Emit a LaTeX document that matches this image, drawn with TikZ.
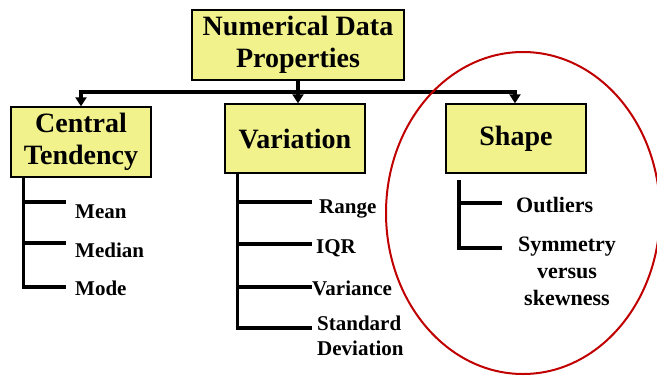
\documentclass[tikz,border=0pt]{standalone}
\usepackage{fontspec}
\setmainfont{Liberation Serif}
\usetikzlibrary{arrows.meta,positioning}
\definecolor{BoxYellow}{HTML}{F2F28C}
\definecolor{RingRed}  {HTML}{C00000}
\tikzset{
  pbox/.style={rectangle,draw=black,line width=1.4pt,fill=BoxYellow,inner sep=0pt,
               align=center,font=\fontsize{28}{32}\selectfont\bfseries},
  leaf/.style={anchor=base west,inner sep=0pt,
               font=\fontsize{21}{25}\selectfont\bfseries},
  sleaf/.style={inner sep=0pt,font=\fontsize{22}{27}\selectfont\bfseries},
  tree/.style={line width=3.2pt},
  arr/.style={-{Triangle[length=9pt,width=11pt]},line width=3.5pt},
  ring/.style={draw=RingRed,line width=2pt},
}
\begin{document}
\begin{tikzpicture}[x=1pt,y=-1pt]
  \useasboundingbox (0,0) rectangle (657,376);

  % boxes
  \node[pbox,minimum width=212pt,minimum height=70pt] (top) at (298,45)
    {Numerical Data\\Properties};
  \node[pbox,minimum width=140pt,minimum height=70pt] (ct) at (81,142)
    {Central\\Tendency};
  \node[pbox,minimum width=140pt,minimum height=69pt] (var) at (295,138.5)
    {Variation};
  \node[pbox,minimum width=140pt,minimum height=69pt] (shp) at (516,138.5)
    {Shape};

  % top arrows
  \coordinate (hub) at (298,92);
  \draw[line width=3.5pt] (top.south) -- (hub);
  \draw[arr] (hub) -| (ct.north);
  \draw[arr] (hub) -- (hub |- var.north);
  \draw[arr] (hub) -| ([xshift=-1pt]shp.north);

  % leaves
  \node[leaf] (mean)   at (75,218) {Mean};
  \node[leaf] (median) at (75,257) {Median};
  \node[leaf] (mode)   at (75,295) {Mode};

  \node[leaf] (range)  at (319,213) {Range};
  \node[leaf] (iqr)    at (316,253) {IQR};
  \node[leaf] (vari)   at (312,295) {Variance};
  \node[leaf,anchor=north west,align=left] (sdev) at (317,316)
    {Standard\\Deviation};

  \node[sleaf,anchor=base west] (outl) at (516,212) {Outliers};
  \node[sleaf,anchor=north,align=center] (symm) at (567,237)
    {Symmetry\\versus\\skewness};

  % brackets
  \coordinate (ct1) at (66,202);
  \coordinate (ct2) at (66,243);
  \coordinate (ct3) at (66,287);
  \draw[tree] ([xshift=13pt]ct.south west) |- (ct3);
  \draw[tree] ([xshift=13pt]ct.south west |- ct1) -- (ct1);
  \draw[tree] ([xshift=13pt]ct.south west |- ct2) -- (ct2);

  \coordinate (va1) at (312,202);
  \coordinate (va2) at (312,244);
  \coordinate (va3) at (312,287);
  \coordinate (va4) at (312,328);
  \draw[tree] ([xshift=13pt]var.south west) |- (va4);
  \draw[tree] ([xshift=13pt]var.south west |- va1) -- (va1);
  \draw[tree] ([xshift=13pt]var.south west |- va2) -- (va2);
  \draw[tree] ([xshift=13pt]var.south west |- va3) -- (va3);

  \coordinate (sh0) at (459,180);
  \coordinate (sh1) at (502,203);
  \coordinate (sh2) at (502,248);
  \draw[tree] (sh0) |- (sh2);
  \draw[tree] (sh0 |- sh1) -- (sh1);

  % highlight
  \draw[ring] (523,213) ellipse [x radius=137, y radius=161];

\end{tikzpicture}
\end{document}
